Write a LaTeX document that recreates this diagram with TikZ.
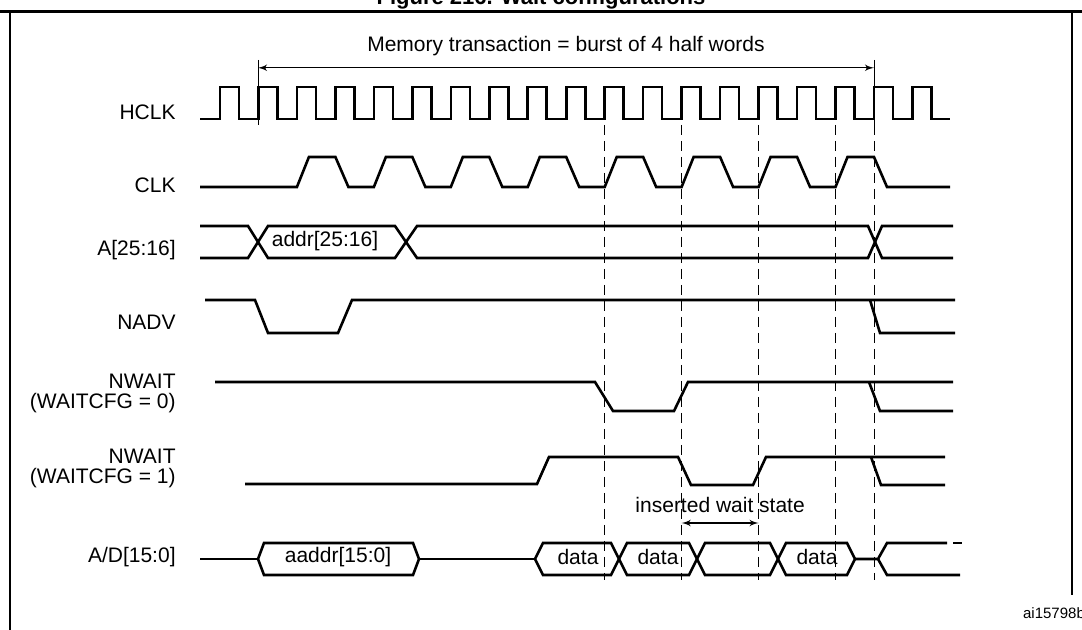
\documentclass[tikz,border=0pt]{standalone}
\usepackage{fontspec}
\setmainfont{Liberation Sans}
\usetikzlibrary{arrows,positioning,calc}

\tikzset{
sig/.style={line width=1.3pt, line join=miter},
guide/.style={thin, dash pattern=on 5pt off 3pt},
lbl/.style={anchor=east, align=right, inner sep=0pt, font=\fontsize{10.5}{10}\selectfont},
txt/.style={inner sep=0pt, font=\fontsize{10.5}{11}\selectfont},
edge/.style={<->,>=latex', semithick}}

\def\per{38.47}
\newcommand{\busbox}[3]{% left, right, slant
\draw[sig] (#1,559) -- ({#1+#3},543) -- ({#2-#3},543) -- (#2,559) -- ({#2-#3},575) -- ({#1+#3},575) -- cycle;}

\begin{document}
\begin{tikzpicture}[x=0.5pt,y=-0.5pt]
\useasboundingbox (0,0) rectangle (1082,630);
%% frame and title
\node[font=\bfseries\fontsize{11}{12}\selectfont, anchor=base] (title) at (541,5) {Figure 216. Wait configurations};
\draw[line width=1.5pt] (0,12) -- (1082,12);
\draw[semithick] (10,12) -- (10,630);
\draw[semithick] (1072,12) -- (1072,595);
\node[txt, font=\fontsize{7.5}{8}\selectfont] (ref) at (1054,613) {ai15798b};
%%
%% signal names
\node[lbl] (hclk) at (176,112) {HCLK};
\node[lbl] (clk) at (176,185) {CLK};
\node[lbl] (addrhi) at (176,250) {A[25:16]};
\node[lbl] (nadv) at (176,322) {NADV};
\node[lbl] (nwait0) at (176,393) {NWAIT\\(WAITCFG = 0)};
\node[lbl] (nwait1) at (176,468) {NWAIT\\(WAITCFG = 1)};
\node[lbl] (ad) at (176,557) {A/D[15:0]};
%%
%% HCLK
\draw[sig] (200,119) \foreach \k in {0,...,18}{ -- ({220+\per*\k},119) -- ++(0,-32) -- ++(19,0) -- ++(0,32)} -- (950,119);
%% CLK
\draw[sig] (200,187) \foreach \k in {2,4,...,16}{ -- ({220+\per*\k},187) -- ++(12,-30) -- ({220+\per*(\k+1)},157) -- ++(13,30)} -- (950,187);
%%
%% markers
\coordinate (m0t) at (258,60);
\coordinate (m0b) at (258,125);
\coordinate (m1t) at ({220+\per*17},60);
\coordinate (m1b) at ({220+\per*17},125);
\draw[thin] (m0t) -- (m0b);
\draw[thin] (m1t) -- (m1b);
\foreach \k in {10,12,14,16,17}{
\coordinate (d\k) at ({220+\per*\k},125);
\draw[guide] (d\k) -- ++(0,455);}
\draw[edge] ($(m0t)!0.12!(m0b)$) coordinate (burstl) -- ($(m1t)!0.12!(m1b)$) coordinate (burstr);
\node[txt, above=6pt of $(burstl)!0.5!(burstr)$] (burst) {Memory transaction = burst of 4 half words};
%%
%% A[25:16]
\draw[sig] (200,226) -- (248,226) -- (268,258) -- (395,258) -- (417,226) -- (868,226) -- (882,258) -- (953,258);
\draw[sig] (200,258) -- (248,258) -- (268,226) -- (395,226) -- (417,258) -- (868,258) -- (882,226) -- (953,226);
\node[txt] (addrv) at (325,241) {addr[25:16]};
%%
%% NADV
\draw[sig] (205,300) -- (255,300) -- (268,333) -- (338,333) -- (352,300) -- (955,300);
\draw[sig] (870,300) -- (880,333) -- (955,333);
%%
%% NWAIT, WAITCFG = 0
\draw[sig] (215,382) -- (595,382) -- (613,411) -- (674,411) -- (688,382) -- (953,382);
\draw[sig] (869,382) -- (880,411) -- (953,411);
%%
%% NWAIT, WAITCFG = 1
\draw[sig] (245,484) -- (537,484) -- (549,457) -- (678,457) -- (691,485) -- (753,485) -- (766,457) -- (945,457);
\draw[sig] (871,457) -- (881,485) -- (945,485);
\draw[edge] ($(d12)+(0,398)$) coordinate (wsl) -- ($(d14)+(0,398)$) coordinate (wsr);
\node[txt, above=5pt of $(wsl)!0.5!(wsr)$] (wait) {inserted wait state};
%%
%% A/D[15:0]
\draw[sig] (200,559) -- (258,559);
\busbox{258}{419}{6}
\draw[sig] (419,559) -- (535,559);
\busbox{535}{619}{8}
\busbox{619}{697}{8}
\busbox{697}{778}{8}
\busbox{778}{855}{8}
\draw[sig] (855,559) -- (878,559) -- (887,543) -- (947,543);
\draw[sig] (953,543) -- (962,543);
\draw[sig] (878,559) -- (887,575) -- (960,575);
\node[txt] (aaddr) at (338,557) {aaddr[15:0]};
\node[txt] (data1) at (578,557) {data};
\node[txt] (data2) at (658,557) {data};
\node[txt] (data3) at (817,557) {data};
\end{tikzpicture}
\end{document}
